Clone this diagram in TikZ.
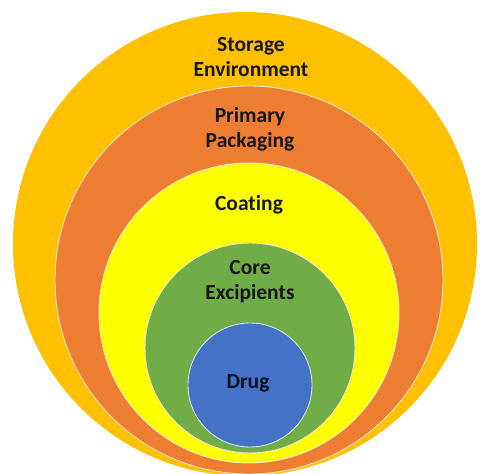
\documentclass[tikz,border=0pt]{standalone}
\usepackage{fontspec}
\setmainfont[Ligatures=NoCommon]{Carlito}
\definecolor{cgold}{HTML}{FFC000}
\definecolor{corange}{HTML}{ED7D31}
\definecolor{cyellow}{HTML}{FFFF00}
\definecolor{cgreen}{HTML}{70AD47}
\definecolor{cblue}{HTML}{4472C4}
\definecolor{ctext}{HTML}{161616}
\definecolor{cedge}{HTML}{F8E6C8}
\tikzset{
  ring/.style={draw=cedge, line width=0.9pt},
  lbl/.style={font=\bfseries\fontsize{21.5}{25}\selectfont, text=ctext, align=center, inner sep=0pt}
}
\begin{document}
\begin{tikzpicture}[x=1pt,y=-1pt]
\useasboundingbox (0,0) rectangle (480,474);
\clip (0,0) rectangle (480,474);
\fill[fill=cgold] (245,244) circle (232);
\filldraw[ring, fill=corange] (249,280) circle (194);
\filldraw[ring, fill=cyellow] (249,313) circle (150);
\filldraw[ring, fill=cgreen] (250,348) circle (105);
\filldraw[ring, draw=white!80!cblue, fill=cblue] (250,385) circle (62);
\node[lbl] (storage) at (251,57) {Storage\\Environment};
\node[lbl] (packaging) at (250,129) {Primary\\Packaging};
\node[lbl] (coating) at (249,205) {Coating};
\node[lbl] (core) at (250,282) {Core\\Excipients};
\node[lbl, text=black!85!cblue] (drug) at (248,383) {Drug};
\end{tikzpicture}
\end{document}
